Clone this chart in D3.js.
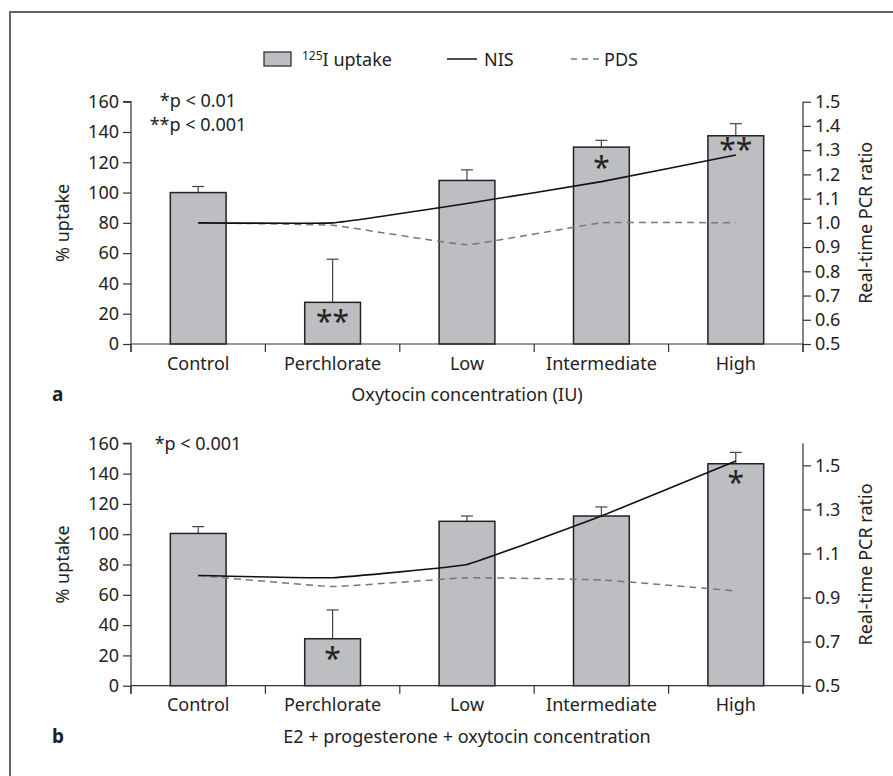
<!DOCTYPE html>
<html><head><meta charset="utf-8">
<script src="https://cdn.jsdelivr.net/npm/d3@7/dist/d3.min.js"></script>
<style>body{margin:0;background:#fff}svg{display:block}text{font-family:"Noto Sans",sans-serif;fill:#222}</style>
</head><body>
<script>
const categories = ["Control","Perchlorate","Low","Intermediate","High"];
// Panel a
const uptakeA = [100, 27.5, 108, 130, 137.5];
const errA    = [104, 56, 115, 134.5, 145.5];
const nisA    = [1.00, 1.00, 1.08, 1.17, 1.28];
const pdsA    = [1.00, 0.99, 0.91, 1.00, 1.00];
const starsA  = ["", "**", "", "*", "**"];
// Panel b
const uptakeB = [100.5, 31, 108.5, 112, 146.5];
const errB    = [105, 50, 112, 118, 154];
const nisB    = [1.00, 0.99, 1.05, 1.27, 1.52];
const pdsB    = [1.00, 0.95, 0.99, 0.98, 0.93];
const starsB  = ["", "*", "", "", "*"];
const leftTicks = [0,20,40,60,80,100,120,140,160];
const rightTicksA = [0.5,0.6,0.7,0.8,0.9,1.0,1.1,1.2,1.3,1.4,1.5];
const rightTicksB = [0.5,0.7,0.9,1.1,1.3,1.5];

const W=893,H=776,FS=18;
const svg=d3.select("body").append("svg").attr("width",W).attr("height",H);
svg.append("path").attr("d","M10,776V12H893")
  .attr("fill","none").attr("stroke","#666").attr("stroke-width",2);

// legend
const lg=svg.append("g");
lg.append("rect").attr("x",264).attr("y",52).attr("width",27).attr("height",14).attr("fill","#bdbec2").attr("stroke","#333").attr("stroke-width",1.3);
const lt=lg.append("text").attr("x",302).attr("y",66).attr("font-size",FS);
lt.append("tspan").attr("font-size",12).attr("dy",-6).text("125");
lt.append("tspan").attr("dy",6).text("I uptake");
lg.append("line").attr("x1",447).attr("x2",477).attr("y1",59).attr("y2",59).attr("stroke","#111").attr("stroke-width",1.5);
lg.append("text").attr("x",484).attr("y",66).attr("font-size",FS).text("NIS");
lg.append("line").attr("x1",571).attr("x2",600).attr("y1",59).attr("y2",59).attr("stroke","#777").attr("stroke-width",1.5).attr("stroke-dasharray","6,5");
lg.append("text").attr("x",604).attr("y",66).attr("font-size",FS).text("PDS");

const x=d3.scaleBand().domain(categories).range([131,803]).paddingInner(0).paddingOuter(0);
const bw=x.bandwidth()*0.415;

function panel(opt){
  const g=svg.append("g");
  const y=d3.scaleLinear().domain([0,160]).range([opt.y1,opt.y0]);
  const yr=d3.scaleLinear().domain(opt.rdom).range([opt.y1,opt.y0]);
  const data=categories.map((c,i)=>({c,i,v:opt.up[i],e:opt.err[i],s:opt.stars[i]}));
  const cx=d=>x(d.c)+x.bandwidth()/2;
  g.selectAll(".eb").data(data).join("line")
    .attr("x1",cx).attr("x2",cx)
    .attr("y1",d=>y(d.v)).attr("y2",d=>y(d.e)).attr("stroke","#444").attr("stroke-width",1.2);
  g.selectAll(".ec").data(data).join("line")
    .attr("x1",d=>cx(d)-6).attr("x2",d=>cx(d)+6)
    .attr("y1",d=>y(d.e)).attr("y2",d=>y(d.e)).attr("stroke","#444").attr("stroke-width",1.2);
  g.selectAll(".bar").data(data).join("rect")
    .attr("x",d=>cx(d)-bw/2).attr("width",bw)
    .attr("y",d=>y(d.v)).attr("height",d=>y(0)-y(d.v))
    .attr("fill","#bdbec2").attr("stroke","#222").attr("stroke-width",1.5);
  const ln=d3.line().x((d,i)=>x(categories[i])+x.bandwidth()/2).y(d=>yr(d)).curve(d3.curveCardinal.tension(0.75));
  g.append("path").attr("d",ln(opt.pds)).attr("fill","none").attr("stroke","#777").attr("stroke-width",1.5).attr("stroke-dasharray","7,5");
  g.append("path").attr("d",ln(opt.nis)).attr("fill","none").attr("stroke","#111").attr("stroke-width",1.6);
  g.selectAll(".st").data(data.filter(d=>d.s)).join("text")
    .attr("x",cx).attr("y",d=>opt.starY[d.i])
    .attr("text-anchor","middle").attr("font-size",30).attr("font-family","DejaVu Sans").text(d=>d.s);
  const ax=g.append("g").attr("transform",`translate(131,0)`)
    .call(d3.axisLeft(y).tickValues(leftTicks).tickSize(8).tickPadding(4));
  const ar=g.append("g").attr("transform",`translate(803,0)`)
    .call(d3.axisRight(yr).tickValues(opt.rticks).tickSize(8).tickPadding(4).tickFormat(d3.format(".1f")));
  const xb=g.append("g").attr("transform",`translate(0,${opt.y1})`)
    .call(d3.axisBottom(x).tickSize(0).tickPadding(13));
  const bounds=[131].concat(categories.map(c=>x(c)+x.bandwidth()));
  g.selectAll(".xt").data(bounds).join("line").attr("x1",d=>d).attr("x2",d=>d)
    .attr("y1",opt.y1).attr("y2",opt.y1+8).attr("stroke","#333").attr("stroke-width",1.2);
  [ax,ar,xb].forEach(a=>{
    a.selectAll("path.domain").attr("stroke","#333").attr("stroke-width",1.2);
    a.selectAll(".tick line").attr("stroke","#333").attr("stroke-width",1.2);
    a.selectAll("text").attr("font-size",FS).attr("fill","#222").attr("font-family","Noto Sans");
  });
  ax.select("path.domain").attr("d",`M-8,${opt.y0}H0V${opt.y1+8}`);
  ar.select("path.domain").attr("d",`M0,${opt.y0}V${opt.y1+8}`);
  xb.select("path.domain").attr("d",`M131,0H803`);
  const ym=(opt.y0+opt.y1)/2;
  g.append("text").attr("transform",`translate(69,${ym}) rotate(-90)`).attr("text-anchor","middle").attr("font-size",FS).text("% uptake");
  g.append("text").attr("transform",`translate(872,${ym}) rotate(-90)`).attr("text-anchor","middle").attr("font-size",FS).text("Real-time PCR ratio");
  g.append("text").attr("x",467).attr("y",opt.titleY).attr("text-anchor","middle").attr("font-size",FS).text(opt.title);
  g.append("text").attr("x",52).attr("y",opt.titleY).attr("font-size",19).attr("font-weight","bold").text(opt.letter);
  opt.sig.forEach((s,i)=>g.append("text").attr("x",198).attr("y",opt.sigY[i]).attr("text-anchor","middle").attr("font-size",FS).text(s));
}

panel({y0:101.7,y1:344,rdom:[0.5,1.5],rticks:rightTicksA,up:uptakeA,err:errA,nis:nisA,pds:pdsA,stars:starsA,
  starY:[0,332,0,178,160],title:"Oxytocin concentration (IU)",letter:"a",titleY:401,
  sig:["*p < 0.01","**p < 0.001"],sigY:[107,131]});
panel({y0:443.3,y1:685.7,rdom:[0.5,1.6],rticks:rightTicksB,up:uptakeB,err:errB,nis:nisB,pds:pdsB,stars:starsB,
  starY:[0,669,0,0,493],title:"E2 + progesterone + oxytocin concentration",letter:"b",titleY:743,
  sig:["*p < 0.001"],sigY:[450]});
</script>
</body></html>
